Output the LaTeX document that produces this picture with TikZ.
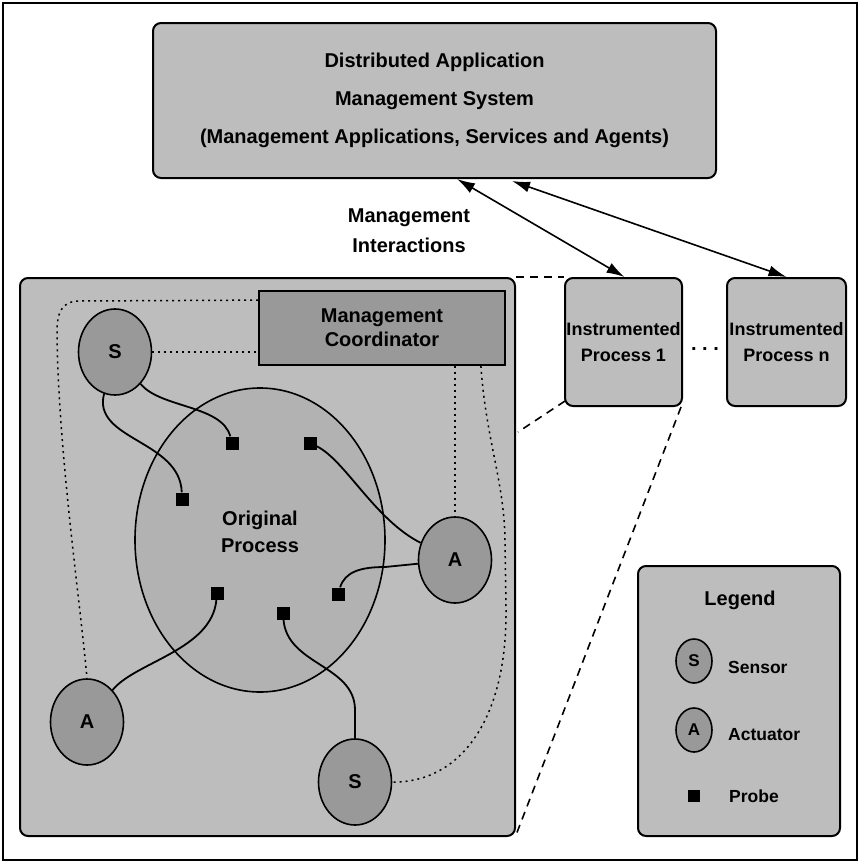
\documentclass[tikz,border=0pt]{standalone}
\usepackage{fontspec}
\setmainfont{Liberation Sans}
\usetikzlibrary{arrows.meta,shapes.geometric,calc}
\definecolor{lightfill}{gray}{0.74}
\definecolor{opfill}{gray}{0.70}
\definecolor{darkfill}{gray}{0.60}
\begin{document}
\begin{tikzpicture}[x=1pt,y=-1pt,
  box/.style={draw, line width=2pt, fill=lightfill, rounded corners=8pt, inner sep=0pt, align=center},
  sa/.style={ellipse, draw, line width=1.6pt, fill=darkfill, minimum width=73pt, minimum height=86pt, inner sep=0pt, font=\fontsize{20}{20}\selectfont\bfseries},
  probe/.style={rectangle, fill=black, minimum size=13pt, inner sep=0pt},
  wire/.style={line width=1.8pt},
  dotline/.style={line width=1.5pt, dash pattern=on 2pt off 4pt},
  dashline/.style={line width=1.6pt, dash pattern=on 8pt off 6pt},
  tip/.style={{Latex[length=18pt,width=11pt]}-{Latex[length=18pt,width=11pt]}},
  txt/.style={font=\fontsize{#1}{#1}\selectfont\bfseries}
]
\useasboundingbox (0,0) rectangle (859,863);
\fill[white] (0,0) rectangle (859,863);
\draw[line width=1.8pt] (3,3) rectangle (857,860);

% top box
\node[box, minimum width=563pt, minimum height=155pt, font=\fontsize{20}{38}\selectfont\bfseries] (dams) at (434.5,100.5)
  {Distributed Application\\Management System\\(Management Applications, Services and Agents)};
\node[align=center, font=\fontsize{20}{30}\selectfont\bfseries] (mi) at (409,231) {Management\\Interactions};

% instrumented processes
\node[box, minimum width=117pt, minimum height=128pt, font=\fontsize{18}{26}\selectfont\bfseries] (ip1) at (623.5,342) {Instrumented\\Process 1};
\node[box, minimum width=119pt, minimum height=128pt, font=\fontsize{18}{26}\selectfont\bfseries] (ipn) at (786.5,342) {Instrumented\\Process n};
\node[txt=20, inner sep=0pt] (dots) at (705,349) {.\ .\ .};

\draw[tip, line width=1.6pt] ($(dams.south west)+(305,0)$) -- ($(ip1.north)+(1,0)$);
\draw[tip, line width=1.6pt] ($(dams.south west)+(360,2)$) -- ($(ipn.north)+(0,0)$);

% left box
\node[box, minimum width=495pt, minimum height=558pt] (lb) at (267.5,557) {};
\draw[dashline] (lb.north east) -- (ip1.north west);
\draw[dashline] ($(ip1.south west)+(1,-6)$) -- ($(lb.north east)+(2,155)$);
\draw[dashline] ($(ip1.south east)+(-2,0)$) -- ($(lb.south east)+(0,-2)$);

% original process
\node[ellipse, draw, line width=1.6pt, fill=opfill, minimum width=250pt, minimum height=304pt, inner sep=0pt] (op) at (260,540) {};
\node[align=center, font=\fontsize{20}{27}\selectfont\bfseries] (optext) at (260,532) {Original\\Process};

% coordinator
\node[draw, line width=1.8pt, fill=darkfill, minimum width=246pt, minimum height=74pt, inner sep=0pt, align=center,
  font=\fontsize{20}{24}\selectfont\bfseries] (mc) at (382,328) {Management\\Coordinator};

% sensors and actuators
\node[sa] (s1) at (115,352) {S};
\node[sa] (a1) at (87,722) {A};
\node[sa] (s2) at (355,782) {S};
\node[sa] (a2) at (455,560) {A};

% probes
\node[probe] (p1) at (232,443) {};
\node[probe] (p2) at (310,443) {};
\node[probe] (p3) at (182,499) {};
\node[probe] (p4) at (217,593) {};
\node[probe] (p5) at (283,613) {};
\node[probe] (p6) at (338,594) {};

% wires
\draw[wire] (s1) .. controls (160,408) and (222,405) .. (p1);
\draw[wire] (s1) .. controls (92,440) and (180,440) .. (p3);
\draw[wire] (p2) .. controls (345,460) and (375,520) .. (a2);
\draw[wire] (p6) .. controls (345,572) and (360,567) .. (385,567) -- (a2);
\draw[wire] (p4) .. controls (212,650) and (135,662) .. (a1);
\draw[wire] (p5) .. controls (287,665) and (355,665) .. (355,710) -- (s2);

% dotted management links
\draw[dotline] ($(mc.north west)+(0,10)$) -- (80,301) .. controls (62,301) and (57,312) .. (57,332)
  .. controls (58,450) and (80,600) .. (a1.north);
\draw[dotline] (s1.east) -- (s1.east -| mc.west);
\draw[dotline] (a2.north |- mc.south) -- (a2.north);
\draw[dotline] ($(mc.south east)+(-25,0)$) .. controls (486,440) and (504,480) .. (505,540) -- (506,610)
  .. controls (507,720) and (460,783) .. (s2.east);

% legend
\node[box, minimum width=202pt, minimum height=270pt] (lg) at (739,701) {};
\node[txt=20] (lgt) at (740,600) {Legend};
\node[sa, minimum width=36pt, minimum height=44pt, font=\fontsize{17}{17}\selectfont\bfseries] (ls) at (694,661) {S};
\node[anchor=west, inner sep=0pt, txt=17.5] (lst) at (728,667) {Sensor};
\node[sa, minimum width=36pt, minimum height=44pt, font=\fontsize{17}{17}\selectfont\bfseries] (la) at (694,730) {A};
\node[anchor=west, inner sep=0pt, txt=17.5] (lat) at (728,735) {Actuator};
\node[probe, minimum size=12pt] (lp) at (694,796) {};
\node[anchor=west, inner sep=0pt, txt=17.5] (lpt) at (729,796) {Probe};
\end{tikzpicture}
\end{document}
